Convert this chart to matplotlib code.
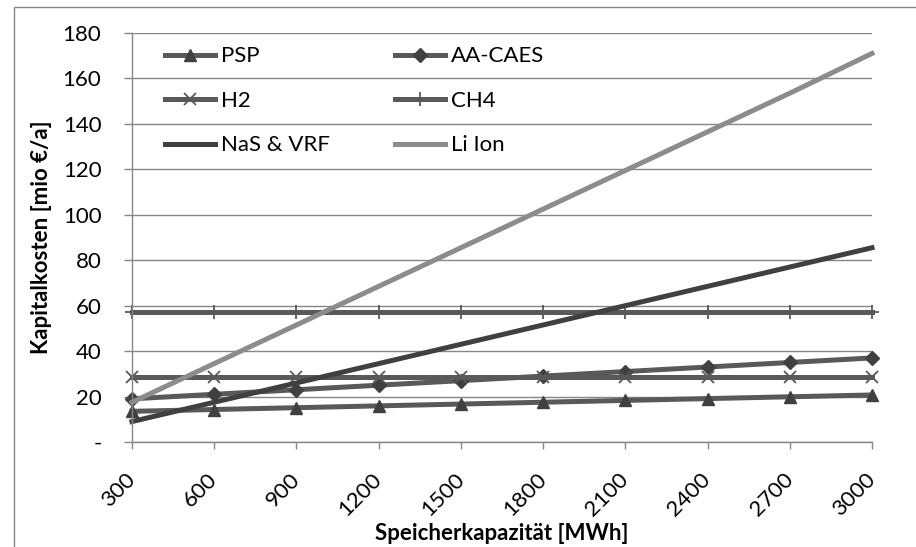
import matplotlib
matplotlib.use('Agg')
import matplotlib.pyplot as plt
from matplotlib.patches import Rectangle

plt.rcParams['font.family'] = ['Lato', 'DejaVu Sans']

# storage capacity (MWh)
kapazitaet = [300, 600, 900, 1200, 1500, 1800, 2100, 2400, 2700, 3000]

# capital costs (mio EUR/a)
psp     = [13.5, 14.3, 15.1, 15.9, 16.7, 17.5, 18.3, 19.1, 19.9, 20.7]
aa_caes = [19.0, 21.0, 23.0, 25.0, 27.0, 29.0, 31.0, 33.0, 35.0, 37.0]
h2      = [28.5, 28.5, 28.5, 28.5, 28.5, 28.5, 28.5, 28.5, 28.5, 28.5]
ch4     = [57.0, 57.0, 57.0, 57.0, 57.0, 57.0, 57.0, 57.0, 57.0, 57.0]
nas_vrf = [9.0, 17.5, 26.0, 34.5, 43.0, 51.5, 60.0, 68.5, 77.0, 85.5]
li_ion  = [17.5, 34.5, 51.5, 68.5, 85.5, 102.5, 119.5, 136.5, 153.5, 171.0]

yticks = [0, 20, 40, 60, 80, 100, 120, 140, 160, 180]
ytick_labels = ['-', '20', '40', '60', '80', '100', '120', '140', '160', '180']

grid_col = '#868686'
fs = 16

fig = plt.figure(figsize=(9.16, 5.47), dpi=100)
# outer chart border (cut off at right and bottom like the original)
fig.patches.append(Rectangle((14/916, -0.05), 1.0, 1 - 7/547 + 0.05,
                             transform=fig.transFigure, fill=False,
                             edgecolor=grid_col, lw=1.0))

ax = fig.add_axes([132/916, 1 - 442/547, 740/916, 409/547])

lw = 3.6
l1, = ax.plot(kapazitaet, psp, color='#595959', lw=lw, marker='^', ms=9,
              mfc='#404040', mec='#404040', label='PSP')
l2, = ax.plot(kapazitaet, aa_caes, color='#595959', lw=lw, marker='D', ms=7,
              mfc='#404040', mec='#404040', label='AA-CAES')
l3, = ax.plot(kapazitaet, h2, color='#595959', lw=lw, marker='x', ms=9,
              mew=1.3, mec='#595959', label='H2')
l4, = ax.plot(kapazitaet, ch4, color='#595959', lw=lw, marker='+', ms=10,
              mew=1.3, mec='#595959', label='CH4')
l5, = ax.plot(kapazitaet, nas_vrf, color='#404040', lw=lw, label='NaS & VRF')
l6, = ax.plot(kapazitaet, li_ion, color='#8c8c8c', lw=lw, label='Li Ion')

for l in (l1, l2, l3, l4, l5, l6):
    l.set_clip_on(False)

ax.set_xlim(300, 3000)
ax.set_ylim(0, 180)
ax.set_xticks(kapazitaet)
ax.set_xticklabels([str(k) for k in kapazitaet], rotation=45, ha='right',
                   va='center', rotation_mode='anchor', fontsize=fs)
ax.set_yticks(yticks)
ax.set_yticklabels(ytick_labels, fontsize=fs)

ax.grid(axis='y', color=grid_col, lw=1.0)
ax.set_axisbelow(True)
for s in ('top', 'right'):
    ax.spines[s].set_visible(False)
for s in ('left', 'bottom'):
    ax.spines[s].set_color(grid_col)
    ax.spines[s].set_linewidth(1.0)
ax.tick_params(axis='y', length=6, width=1, color=grid_col, pad=16)
ax.tick_params(axis='x', length=5, width=1, color=grid_col, pad=20)

ax.set_ylabel('Kapitalkosten [mio €/a]', fontsize=fs, fontweight='bold',
              labelpad=8)
ax.set_xlabel('Speicherkapazität [MWh]', fontsize=fs, fontweight='bold',
              labelpad=2)

handles = [l1, l2, l3, l4, l5, l6]
order = [0, 2, 4, 1, 3, 5]
ax.legend([handles[i] for i in order], [handles[i].get_label() for i in order],
          ncol=2, loc='upper left', bbox_to_anchor=(0.044, 0.967),
          frameon=False, fontsize=fs, borderpad=0, borderaxespad=0,
          handlelength=2.25, handletextpad=0.3, columnspacing=2.9,
          labelspacing=1.1)

fig.savefig('out.png', dpi=100)
